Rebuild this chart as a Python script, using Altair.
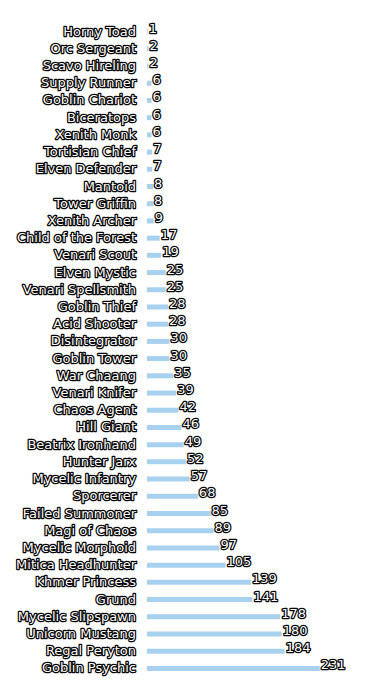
import altair as alt
import pandas as pd

names = ["Horny Toad", "Orc Sergeant", "Scavo Hireling", "Supply Runner", "Goblin Chariot",
         "Biceratops", "Xenith Monk", "Tortisian Chief", "Elven Defender", "Mantoid",
         "Tower Griffin", "Xenith Archer", "Child of the Forest", "Venari Scout", "Elven Mystic",
         "Venari Spellsmith", "Goblin Thief", "Acid Shooter", "Disintegrator", "Goblin Tower",
         "War Chaang", "Venari Knifer", "Chaos Agent", "Hill Giant", "Beatrix Ironhand",
         "Hunter Jarx", "Mycelic Infantry", "Sporcerer", "Failed Summoner", "Magi of Chaos",
         "Mycelic Morphoid", "Mitica Headhunter", "Khmer Princess", "Grund", "Mycelic Slipspawn",
         "Unicorn Mustang", "Regal Peryton", "Goblin Psychic"]
values = [1, 2, 2, 6, 6, 6, 6, 7, 7, 8, 8, 9, 17, 19, 25, 25, 28, 28, 30, 30,
          35, 39, 42, 46, 49, 52, 57, 68, 85, 89, 97, 105, 139, 141, 178, 180, 184, 231]

df = pd.DataFrame({"name": names, "value": values})

FONT = "DejaVu Sans"
y = alt.Y("name:N", sort=names,
          scale=alt.Scale(paddingInner=0.7, paddingOuter=0.35),
          axis=alt.Axis(labels=False, title=None, domain=False, ticks=True,
                        tickSize=4, tickColor="#555", tickWidth=1, offset=2, grid=False))
x = alt.X("value:Q", scale=alt.Scale(domain=[0, 250], nice=False), axis=None)

base = alt.Chart(df)

bars = base.mark_bar(color="#a8d1f0", size=5).encode(x=x, y=y)

ylab = alt.Y("name:N", sort=names, axis=None)

lab_stroke = base.mark_text(align="right", baseline="middle", font=FONT, fontSize=13,
                            stroke="black", strokeWidth=2.5, strokeJoin="round",
                            fill="black").encode(y=ylab, x=alt.value(-11), text="name:N")
lab_fill = base.mark_text(align="right", baseline="middle", font=FONT, fontSize=13,
                          fill="white").encode(y=ylab, x=alt.value(-11), text="name:N")

val_stroke = base.mark_text(align="left", baseline="alphabetic", font=FONT, fontSize=13,
                            stroke="black", strokeWidth=2.5, strokeJoin="round", fill="black",
                            dx=1, dy=1).encode(y=ylab, x=x, text="value:Q")
val_fill = base.mark_text(align="left", baseline="alphabetic", font=FONT, fontSize=13,
                          fill="white", dx=1, dy=1).encode(y=ylab, x=x, text="value:Q")

chart = alt.layer(bars, lab_stroke, lab_fill, val_stroke, val_fill).properties(
    width=187, height=654,
    background="white",
    autosize=alt.AutoSizeParams(type="none"),
    padding={"left": 147, "top": 23, "right": 31, "bottom": 23}
).configure_view(stroke=None)

chart.save("out.html", embed_options={"renderer": "svg", "actions": False})
